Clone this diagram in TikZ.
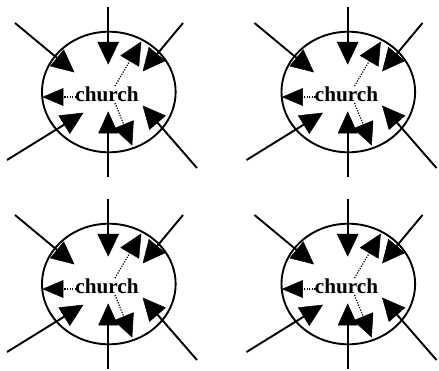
\documentclass[tikz,border=0pt]{standalone}
\usepackage{fontspec}
\setmainfont{Liberation Serif}
\usetikzlibrary{calc,shapes.geometric}
\tikzset{
  solidline/.style={line width=1.9pt},
  dotline/.style={line width=1.2pt, dash pattern=on 1.2pt off 1.4pt},
  tipfill/.style={fill=black, draw=black, line width=0.5pt, line join=miter},
  churchoval/.style={draw, ellipse, line width=1.9pt, minimum width=133.6pt, minimum height=120.6pt, inner sep=0pt},
  churchlabel/.style={font=\bfseries\fontsize{21.2}{24}\selectfont, anchor=base, inner sep=0pt},
  panel/.pic={
    \node[churchoval] (-e) at (108.8,92) {};
    \node[churchlabel] (-t) at (107,101.3) {church};
    \coordinate (-a1) at (108.2,7);   \coordinate (-b1) at (108.2,64);
    \coordinate (-a2) at (15,23);     \coordinate (-b2) at (74,72);
    \coordinate (-a3) at (183,23);    \coordinate (-b3) at (143,71);
    \coordinate (-a4) at (7,160);     \coordinate (-b4) at (83,113);
    \coordinate (-a5) at (108.2,177); \coordinate (-b5) at (108.2,112);
    \coordinate (-a6) at (197,168);   \coordinate (-b6) at (143,106);
    \coordinate (-a7) at (76,97);     \coordinate (-b7) at (43,97);
    \coordinate (-a8) at (115,86);    \coordinate (-b8) at (141,42);
    \coordinate (-a9) at (115,103);   \coordinate (-b9) at (132,145);
    \foreach \i in {1,...,6}{
      \draw[solidline] (-a\i) -- ($(-b\i)!20pt!(-a\i)$);
    }
    \foreach \i in {7,8,9}{
      \draw[dotline] (-a\i) -- ($(-b\i)!19pt!(-a\i)$);
    }
    \foreach \i/\l/\w in {1/22/10.5,2/22/10.5,3/22/10.5,4/22/10.5,5/21/9.5,6/22/10.5,7/20/8.5,8/22/10.5,9/22/10.5}{
      \filldraw[tipfill] (-b\i) -- ($(-b\i)!\l pt!(-a\i)!\w pt!90:(-b\i)$)
        -- ($(-b\i)!\l pt!(-a\i)!\w pt!-90:(-b\i)$) -- cycle;
    }
  }
}
\begin{document}
\begin{tikzpicture}[x=1pt,y=-1pt]
  \useasboundingbox (0,0) rectangle (439,370);
  \pic (p1) at (0,0) {panel};
  \pic (p2) at (239.5,0) {panel};
  \pic (p3) at (0,192) {panel};
  \pic (p4) at (239.5,192) {panel};
\end{tikzpicture}
\end{document}
